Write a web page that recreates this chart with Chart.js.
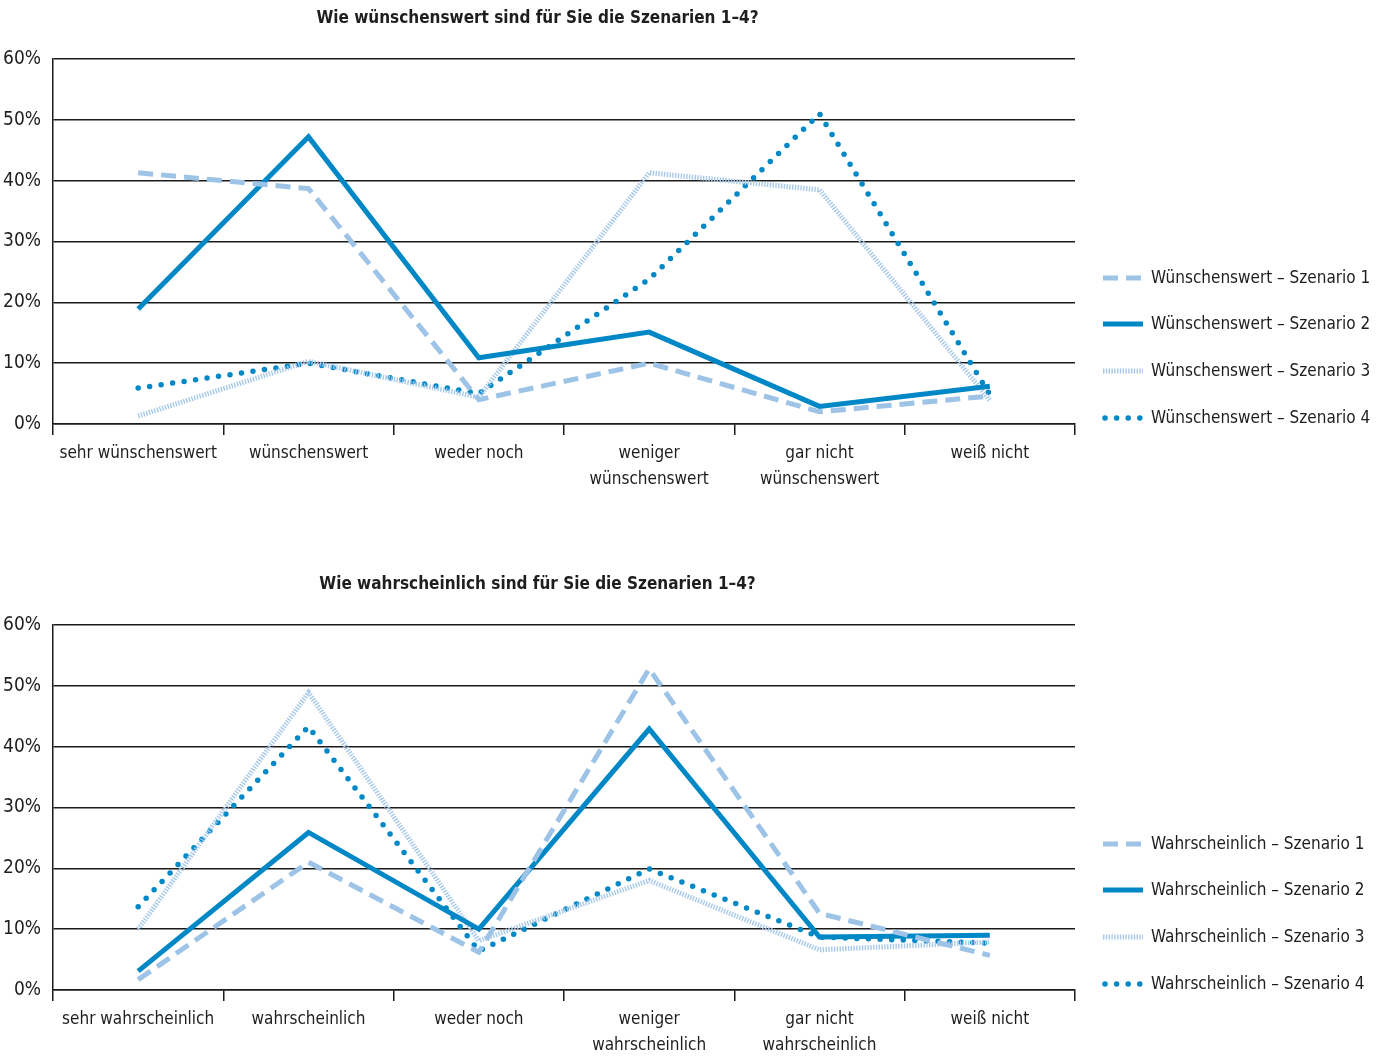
<!DOCTYPE html>
<html lang="de">
<head>
<meta charset="utf-8">
<title>Szenarien 1–4</title>
<script src="https://cdn.jsdelivr.net/npm/chart.js@4/dist/chart.umd.min.js"></script>
<style>
  html, body { margin: 0; padding: 0; background: #fff; }
  body { width: 1384px; height: 1058px; position: relative; overflow: hidden; }
  .box { position: absolute; left: 0; width: 1384px; }
  #box1 { top: 0; height: 530px; }
  #box2 { top: 566px; height: 492px; }
</style>
</head>
<body>
<div class="box" id="box1"><canvas id="chartWunsch"></canvas></div>
<div class="box" id="box2"><canvas id="chartWahr"></canvas></div>
<script>
// Antwortkategorien (mehrzeilige Beschriftungen als Arrays)
const categoriesWunsch = [
  'sehr wünschenswert',
  'wünschenswert',
  'weder noch',
  ['weniger', 'wünschenswert'],
  ['gar nicht', 'wünschenswert'],
  'weiß nicht'
];
const categoriesWahr = [
  'sehr wahrscheinlich',
  'wahrscheinlich',
  'weder noch',
  ['weniger', 'wahrscheinlich'],
  ['gar nicht', 'wahrscheinlich'],
  'weiß nicht'
];

// Anteile in Prozent – Wünschbarkeit
const wunschSzenario1 = [41.3, 38.7, 4.0, 10.0, 2.0, 4.6];
const wunschSzenario2 = [18.9, 47.2, 10.9, 15.1, 2.9, 6.2];
const wunschSzenario3 = [1.3, 10.3, 4.4, 41.3, 38.5, 3.9];
const wunschSzenario4 = [5.9, 10.0, 5.0, 23.8, 51.0, 4.8];

// Anteile in Prozent – Wahrscheinlichkeit
const wahrSzenario1 = [1.7, 21.0, 6.2, 52.8, 12.6, 5.7];
const wahrSzenario2 = [3.1, 25.9, 10.0, 42.9, 8.7, 9.0];
const wahrSzenario3 = [10.0, 48.9, 8.1, 18.0, 6.6, 7.9];
const wahrSzenario4 = [13.7, 43.3, 6.4, 19.9, 8.7, 7.7];

// Achsenbereich
const yTicks = [0, 10, 20, 30, 40, 50, 60];

const FONT = "'Liberation Sans Narrow', 'DejaVu Sans Condensed', 'Roboto', sans-serif";
const TEXT = '#1e1e1e';
const LINE = '#1a1a1a';
const BLUE_DARK = '#0088c6';
const BLUE_LIGHT = '#9dc3e6';
const BLUE_HATCH = '#a6c8ea';

// Linienstile der vier Szenarien
const styles = [
  { borderColor: BLUE_LIGHT, borderWidth: 5, borderDash: [15, 8], borderCapStyle: 'butt' },
  { borderColor: BLUE_DARK, borderWidth: 5, borderDash: [], borderCapStyle: 'butt' },
  { borderColor: BLUE_HATCH, borderWidth: 5, borderDash: [1.4, 1.4], borderCapStyle: 'butt' },
  { borderColor: BLUE_DARK, borderWidth: 5.5, borderDash: [0, 11.6], borderCapStyle: 'round' }
];

// Legende rechts neben dem Diagramm, mit Linienmustern
const sideLegend = {
  id: 'sideLegend',
  afterDraw(chart) {
    const ctx = chart.ctx;
    const x0 = 1103, x1 = 1143, tx = 1151;
    const ys = [278, 324, 371, 418];
    chart.data.datasets.forEach((ds, i) => {
      const y = ys[i];
      ctx.save();
      ctx.strokeStyle = ds.borderColor;
      ctx.lineWidth = ds.borderWidth;
      ctx.lineCap = ds.borderCapStyle;
      ctx.setLineDash(ds.borderDash || []);
      ctx.beginPath();
      ctx.moveTo(ds.borderCapStyle === 'round' ? x0 + 2 : x0, y);
      ctx.lineTo(x1, y);
      ctx.stroke();
      ctx.restore();
      ctx.save();
      ctx.fillStyle = TEXT;
      ctx.font = '17px ' + FONT;
      ctx.textBaseline = 'middle';
      ctx.textAlign = 'left';
      ctx.fillText(ds.label, tx, y + 1);
      ctx.restore();
    });
  }
};

function makeChart(canvasId, title, labels, prefix, series, xHeight) {
  const datasets = series.map((data, i) => Object.assign({
    label: prefix + ' – Szenario ' + (i + 1),
    data: data,
    fill: false,
    tension: 0,
    pointRadius: 0,
    pointHoverRadius: 0,
    borderJoinStyle: 'miter'
  }, styles[i]));

  return new Chart(document.getElementById(canvasId), {
    type: 'line',
    data: { labels: labels, datasets: datasets },
    plugins: [sideLegend],
    options: {
      responsive: true,
      maintainAspectRatio: false,
      animation: false,
      events: [],
      layout: { padding: { left: 0, right: 1384 - 1075, top: 0, bottom: 0 } },
      plugins: {
        legend: { display: false },
        tooltip: { enabled: false },
        title: {
          display: true,
          text: title,
          color: TEXT,
          font: { family: FONT, size: 17, weight: 'bold' },
          padding: { top: 8, bottom: 30.6 }
        }
      },
      scales: {
        x: {
          type: 'category',
          offset: true,
          afterFit(scale) { scale.height = xHeight; },
          grid: {
            offset: true,
            drawOnChartArea: false,
            drawTicks: true,
            tickLength: 11,
            color: LINE,
            lineWidth: 1.5
          },
          border: { display: true, color: LINE, width: 1.5 },
          ticks: {
            color: TEXT,
            font: { family: FONT, size: 17, lineHeight: 1.53 },
            padding: 6,
            maxRotation: 0,
            autoSkip: false
          }
        },
        y: {
          min: yTicks[0],
          max: yTicks[yTicks.length - 1],
          afterFit(scale) { scale.width = 53; },
          afterBuildTicks(scale) { scale.ticks = yTicks.map(v => ({ value: v })); },
          grid: {
            drawTicks: false,
            color: LINE,
            lineWidth: 1.5
          },
          border: { display: true, color: LINE, width: 1.5 },
          ticks: {
            color: TEXT,
            font: { family: FONT, size: 19 },
            padding: 12,
            callback: v => v + '%'
          }
        }
      }
    }
  });
}

makeChart('chartWunsch', 'Wie wünschenswert sind für Sie die Szenarien 1–4?',
  categoriesWunsch, 'Wünschenswert',
  [wunschSzenario1, wunschSzenario2, wunschSzenario3, wunschSzenario4], 106);

makeChart('chartWahr', 'Wie wahrscheinlich sind für Sie die Szenarien 1–4?',
  categoriesWahr, 'Wahrscheinlich',
  [wahrSzenario1, wahrSzenario2, wahrSzenario3, wahrSzenario4], 68);
</script>
</body>
</html>
